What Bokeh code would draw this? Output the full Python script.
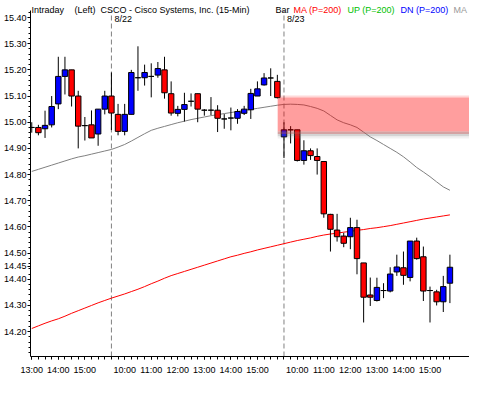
import pandas as pd
from bokeh.plotting import figure
from bokeh.models import Label, FixedTicker, ColumnDataSource, Range1d, NumeralTickFormatter
from bokeh.embed import file_html
from bokeh.resources import INLINE

# ---- data -------------------------------------------------------------
sessions = [("2007-08-21", "13:00"), ("2007-08-22", "09:30"), ("2007-08-23", "09:30")]
session_end = "15:45"

opens = [14.98, 14.98, 14.975, 14.99, 15.07, 15.175, 15.20, 15.10, 14.987, 14.99, 14.955, 15.05,
         15.10, 15.03, 14.965, 15.03, 15.17, 15.17, 15.175, 15.18, 15.20, 15.109, 15.034, 15.049,
         15.08, 15.109, 15.046, 15.046, 15.046, 15.0125, 15.016, 15.015, 15.034, 15.0475, 15.10,
         15.1425, 15.169, 15.156,
         14.944, 14.971, 14.971, 14.854, 14.891, 14.869, 14.85, 14.648, 14.588, 14.565, 14.5625,
         14.5975, 14.4625, 14.34, 14.319, 14.357, 14.355, 14.428, 14.444, 14.407, 14.546, 14.486,
         14.357, 14.352, 14.314, 14.385]
highs = [15.00, 14.99, 15.044, 15.10, 15.25, 15.25, 15.20, 15.12, 15.02, 15.045, 15.05, 15.12,
         15.19, 15.07, 15.07, 15.20, 15.29, 15.22, 15.225, 15.23, 15.25, 15.156, 15.0625, 15.1125,
         15.11, 15.109, 15.05, 15.096, 15.065, 15.031, 15.056, 15.05, 15.0625, 15.1275, 15.156,
         15.1875, 15.206, 15.181,
         15.00, 14.985, 14.971, 14.931, 14.90, 14.90, 14.85, 14.65, 14.65, 14.5775, 14.635,
         14.6275, 14.4625, 14.4066, 14.406, 14.385, 14.446, 14.494, 14.506, 14.546, 14.559, 14.525,
         14.372, 14.36, 14.413, 14.494]
lows = [14.96, 14.95, 14.94, 14.98, 15.05, 15.106, 15.06, 14.90, 14.93, 14.94, 14.91, 15.03,
        14.97, 14.95, 14.95, 15.03, 15.12, 15.14, 15.095, 15.17, 15.09, 15.025, 15.0225, 15.0025,
        15.06, 15.00, 15.025, 15.0275, 14.9625, 14.975, 14.969, 14.994, 15.0275, 15.0125, 15.10,
        15.14, 15.10, 15.091,
        14.863, 14.919, 14.85, 14.838, 14.856, 14.80, 14.635, 14.506, 14.544, 14.5225, 14.515,
        14.419, 14.235, 14.298, 14.315, 14.328, 14.35, 14.413, 14.379, 14.392, 14.475, 14.317,
        14.235, 14.30, 14.275, 14.309]
closes = [14.98, 14.96, 14.988, 15.06, 15.175, 15.20, 15.10, 14.985, 14.987, 14.94, 15.05, 15.10,
          15.035, 14.965, 15.03, 15.19, 15.17, 15.19, 15.175, 15.205, 15.1125, 15.035, 15.049, 15.0675,
          15.08, 15.05, 15.046, 15.046, 15.015, 15.0125, 15.016, 15.041, 15.05, 15.11, 15.1275,
          15.169, 15.169, 15.094,
          14.971, 14.971, 14.854, 14.891, 14.8725, 14.854, 14.65, 14.591, 14.5625, 14.5375, 14.5975,
          14.479, 14.3315, 14.3315, 14.369, 14.357, 14.42, 14.447, 14.415, 14.546, 14.479, 14.355,
          14.357, 14.314, 14.372, 14.446]

ma_gray = [14.812, 14.82, 14.828, 14.836, 14.844, 14.852, 14.86, 14.867, 14.872, 14.878, 14.884, 14.89,
           14.896, 14.905, 14.915, 14.928, 14.942, 14.956, 14.969, 14.977, 14.984, 14.991, 14.998, 15.004,
           15.01, 15.015, 15.02, 15.025, 15.029, 15.033, 15.037, 15.041, 15.045, 15.049, 15.053, 15.057,
           15.061, 15.065, 15.068, 15.069, 15.068, 15.066, 15.06, 15.053, 15.043, 15.026, 15.009, 14.998,
           14.99, 14.98, 14.962, 14.944, 14.93, 14.915, 14.9, 14.885, 14.868, 14.848, 14.827, 14.81,
           14.792, 14.772, 14.753, 14.74]
ma_red = [14.212, 14.222, 14.232, 14.241, 14.249, 14.259, 14.27, 14.28, 14.29, 14.3, 14.31, 14.319,
          14.328, 14.336, 14.344, 14.353, 14.362, 14.372, 14.383, 14.393, 14.404, 14.414, 14.422, 14.43,
          14.438, 14.446, 14.454, 14.462, 14.47, 14.478, 14.486, 14.492, 14.499, 14.505, 14.512, 14.518,
          14.524, 14.53, 14.536, 14.542, 14.548, 14.553, 14.558, 14.564, 14.569, 14.573, 14.576, 14.58,
          14.583, 14.587, 14.59, 14.594, 14.597, 14.601, 14.605, 14.61, 14.615, 14.62, 14.625, 14.63,
          14.634, 14.638, 14.642, 14.646]

y_ticks = [14.20, 14.30, 14.40, 14.45, 14.50, 14.60, 14.70, 14.80, 14.90, 15.00, 15.10, 15.20, 15.30, 15.40]
gap_bar = 37
gap_top = 15.094
gap_bottom = 14.965

# ---- bar timeline -----------------------------------------------------
stamps = []
for day, start in sessions:
    stamps.extend(pd.date_range(f"{day} {start}", f"{day} {session_end}", freq="15min"))
idx = list(range(len(stamps)))
day_starts = [i for i in idx if i > 0 and stamps[i].date() != stamps[i - 1].date()]
hour_idx = [i for i in idx if stamps[i].minute == 0]

src = ColumnDataSource(dict(
    x=idx, o=opens, h=highs, l=lows, c=closes,
    top=[max(o, c) for o, c in zip(opens, closes)],
    bot=[min(o, c) for o, c in zip(opens, closes)],
    col=["#0000FF" if (c > o) else ("#FF0000" if c < o else "white") for o, c in zip(opens, closes)],
    ma1=ma_gray, ma2=ma_red))

# ---- figure -----------------------------------------------------------
Y_LO, Y_AXIS_TOP, Y_HI = 14.105, 15.425, 15.465
p = figure(width=469, height=377, output_backend="svg", toolbar_location=None,
           x_range=Range1d(-0.19, 65.95), y_range=Range1d(Y_LO, Y_HI),
           min_border_top=0, min_border_right=0, min_border_left=0, min_border_bottom=0,
           background_fill_color="white", border_fill_color="white")
p.xgrid.visible = False
p.ygrid.visible = False
p.outline_line_color = None

# day separators
p.segment(x0=day_starts, x1=day_starts, y0=[Y_LO] * len(day_starts), y1=[Y_AXIS_TOP] * len(day_starts),
          line_color="#808080", line_dash="5 3", line_width=1)

p.line("x", "ma1", source=src, line_color="#808080", line_width=1)
p.line("x", "ma2", source=src, line_color="#FF0000", line_width=1)

p.segment(x0="x", x1="x", y0="l", y1="h", source=src, line_color="black", line_width=1)
p.vbar(x="x", top="top", bottom="bot", width=0.82, source=src, fill_color="col",
       line_color="black", line_width=1)

# gap zone with soft edges
right_edge = len(idx) + 5
p.quad(left=gap_bar + 0.05, right=right_edge, top=gap_top + 0.008, bottom=gap_top,
       fill_color="#FF0000", fill_alpha=0.15, line_color=None)
p.quad(left=gap_bar + 0.05, right=right_edge, top=gap_top, bottom=gap_bottom,
       fill_color="#FF0000", fill_alpha=0.38, line_color=None)
p.quad(left=gap_bar + 0.05, right=right_edge, top=gap_bottom, bottom=gap_bottom - 0.01,
       fill_color="#B05858", fill_alpha=0.55, line_color=None)
p.quad(left=gap_bar + 0.05, right=right_edge, top=gap_bottom - 0.01, bottom=gap_bottom - 0.019,
       fill_color="#707070", fill_alpha=0.3, line_color=None)
p.quad(left=gap_bar + 0.05, right=right_edge, top=gap_bottom - 0.019, bottom=gap_bottom - 0.027,
       fill_color="#909090", fill_alpha=0.13, line_color=None)

# axes
FONT = "Liberation Sans"
p.yaxis.ticker = FixedTicker(ticks=y_ticks, minor_ticks=[round(14.12 + 0.02 * k, 2) for k in range(66)])
p.yaxis.formatter = NumeralTickFormatter(format="0.00")
p.yaxis.bounds = (Y_LO, Y_AXIS_TOP)
p.xaxis.ticker = FixedTicker(ticks=hour_idx, minor_ticks=idx)
p.xaxis.major_label_overrides = {i: stamps[i].strftime("%H:%M") for i in hour_idx}
for ax in (p.xaxis[0], p.yaxis[0]):
    ax.axis_line_color = "black"
    ax.major_tick_line_color = "black"
    ax.minor_tick_line_color = "black"
    ax.major_tick_in = 0
    ax.minor_tick_in = 0
    ax.major_label_text_font = FONT
    ax.major_label_text_font_size = "9px"
    ax.major_label_text_color = "black"
p.xaxis.major_tick_out = 3
p.xaxis.minor_tick_out = 3
p.xaxis.major_label_standoff = 5
p.yaxis.major_tick_out = 3
p.yaxis.minor_tick_out = 2
p.yaxis.major_label_standoff = 1

# header (inside the top strip of the frame)
hdr = [("Intraday", 1, "black"), ("(Left)", 44, "black"),
       ("CSCO - Cisco Systems, Inc.  (15-Min)", 70, "black"),
       ("Bar", 245, "black"), ("MA (P=200)", 263, "#FF0000"),
       ("UP (P=200)", 317, "#00C000"), ("DN (P=200)", 370, "#0000FF"),
       ("MA (P=200)", 423, "#999999")]
for txt, off, colr in hdr:
    p.add_layout(Label(x=-0.19, y=Y_HI, x_offset=off, y_offset=-9, text=txt,
                       text_font=FONT, text_font_size="9px", text_color=colr,
                       text_baseline="alphabetic"))
for d in day_starts:
    p.add_layout(Label(x=d, y=Y_HI, x_offset=3, y_offset=-18,
                       text=f"{stamps[d].month}/{stamps[d].day}",
                       text_font=FONT, text_font_size="9px", text_color="black",
                       text_baseline="alphabetic"))

open("out.html", "w").write(file_html(p, INLINE))
